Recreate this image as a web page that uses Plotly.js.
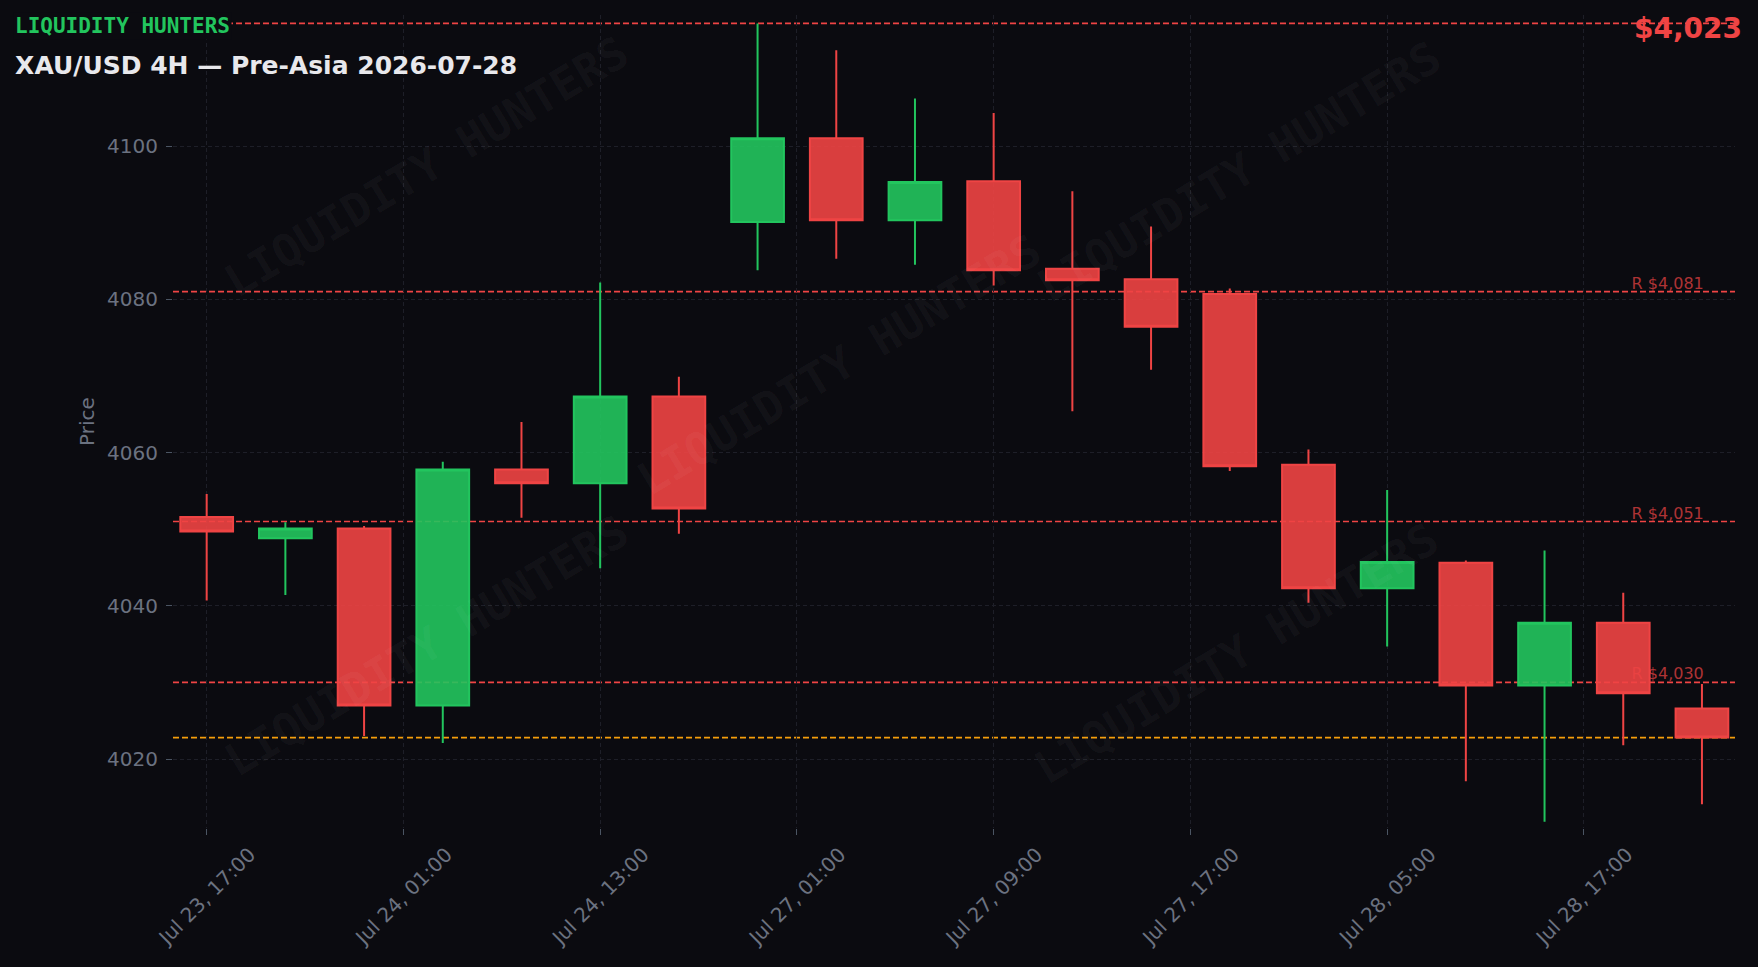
<!DOCTYPE html>
<html>
<head>
<meta charset="utf-8">
<script src="https://cdn.plot.ly/plotly-3.0.1.min.js"></script>
<style>
html,body{margin:0;padding:0;background:#0b0b10;}
#chart{width:1758px;height:967px;}
</style>
</head>
<body>
<div id="chart"></div>
<script>
// ---- data ----
const opens  = [4051.6, 4048.8, 4050.1, 4027.0, 4057.8, 4056.0, 4067.3, 4090.1, 4101.0, 4090.3,
                4095.4, 4084.0, 4082.6, 4080.7, 4058.4, 4042.3, 4045.6, 4029.6, 4037.8, 4026.6];
const highs  = [4054.6, 4050.9, 4050.4, 4058.8, 4064.0, 4082.2, 4069.9, 4116.0, 4112.5, 4106.2,
                4104.3, 4094.1, 4089.5, 4081.4, 4060.4, 4055.1, 4045.9, 4047.2, 4041.7, 4029.8];
const lows   = [4040.7, 4041.4, 4023.0, 4022.1, 4051.5, 4044.9, 4049.4, 4083.8, 4085.3, 4084.5,
                4081.8, 4065.4, 4070.8, 4057.6, 4040.4, 4034.7, 4017.1, 4011.8, 4021.8, 4014.1];
const closes = [4049.7, 4050.1, 4027.0, 4057.8, 4056.0, 4067.3, 4052.7, 4101.0, 4090.3, 4095.3,
                4083.8, 4082.5, 4076.4, 4058.2, 4042.3, 4045.7, 4029.6, 4037.8, 4028.6, 4022.8];
const tickLabels = ["Jul 23, 17:00", "Jul 24, 01:00", "Jul 24, 13:00", "Jul 27, 01:00",
                    "Jul 27, 09:00", "Jul 27, 17:00", "Jul 28, 05:00", "Jul 28, 17:00"];
const candlesPerTick = 2.5;
const sessionHigh = 4116.0;
const resistanceLevels = [4081, 4051, 4030];
const currentPrice = closes[closes.length - 1];

// ---- style ----
const BG = '#0b0b10';
const RED = '#ef4444';
const GREEN = '#22c55e';
const GRAY = '#6b7280';
const GRID = '#1e1f28';
const FONT = 'DejaVu Sans';

const xIdx = opens.map((_, i) => i);
const tickvals = tickLabels.map((_, i) => i * candlesPerTick);
const fmt = v => '$' + Math.round(v).toLocaleString('en-US');

const trace = {
  type: 'candlestick',
  x: xIdx, open: opens, high: highs, low: lows, close: closes,
  increasing: {line: {color: GREEN, width: 2}, fillcolor: 'rgba(34,197,94,0.9)'},
  decreasing: {line: {color: RED, width: 2}, fillcolor: 'rgba(239,68,68,0.9)'},
  hoverinfo: 'skip',
  showlegend: false
};

const dash = '6px,3px';
const shapes = [];
shapes.push({type: 'line', xref: 'paper', x0: 0, x1: 1, yref: 'y', y0: sessionHigh, y1: sessionHigh,
  line: {color: RED, width: 1.7, dash: dash}, layer: 'between'});
resistanceLevels.forEach(lv => {
  shapes.push({type: 'line', xref: 'paper', x0: 0, x1: 1, yref: 'y', y0: lv, y1: lv,
    line: {color: RED, width: 1.7, dash: dash}, layer: 'between'});
  shapes.push({type: 'line', xref: 'paper', x0: 0.90, x1: 0.980, yref: 'y', y0: lv, y1: lv,
    line: {color: 'rgba(0,0,0,0)', width: 0}, layer: 'between',
    label: {text: 'R ' + fmt(lv), textposition: 'end', padding: 0, yanchor: 'bottom',
      font: {family: FONT, size: 16, color: 'rgba(239,68,68,0.72)'}}});
});
shapes.push({type: 'line', xref: 'paper', x0: 0, x1: 1, yref: 'y', y0: currentPrice, y1: currentPrice,
  line: {color: '#f59e0b', width: 1.8, dash: dash}, layer: 'between'});

const wmPos = [[0.1626, 0.814], [0.427, 0.5695], [0.683, 0.807], [0.1626, 0.225], [0.681, 0.215]];
const annotations = wmPos.map(p => ({
  text: 'LIQUIDITY HUNTERS', xref: 'paper', yref: 'paper', x: p[0], y: p[1],
  xanchor: 'center', yanchor: 'middle', textangle: -31, showarrow: false,
  font: {family: 'DejaVu Sans Mono', size: 45, weight: 700, color: 'rgba(255,255,255,0.045)'}
}));
annotations.push({
  text: 'LIQUIDITY HUNTERS', xref: 'paper', yref: 'paper', x: -0.1025, y: 0.9865,
  xanchor: 'left', yanchor: 'middle', showarrow: false, bgcolor: BG,
  font: {family: 'DejaVu Sans Mono', size: 21, weight: 700, color: GREEN}
});
annotations.push({
  text: fmt(currentPrice), xref: 'paper', yref: 'paper', x: 1.0055, y: 0.984,
  xanchor: 'right', yanchor: 'middle', showarrow: false,
  font: {family: FONT, size: 28, weight: 700, color: RED}
});

const layout = {
  width: 1758, height: 967,
  paper_bgcolor: BG, plot_bgcolor: BG,
  margin: {l: 173, r: 23, t: 15, b: 139},
  showlegend: false,
  hovermode: false,
  boxgap: 0.33, boxgroupgap: 0,
  title: {text: 'XAU/USD 4H — Pre-Asia 2026-07-28', x: 0.0086, xanchor: 'left', xref: 'container',
    y: 0.9328, yanchor: 'middle', yref: 'container',
    font: {family: FONT, size: 25, weight: 700, color: '#e8e8ec'}},
  font: {family: FONT, color: GRAY},
  xaxis: {
    type: 'linear', range: [-0.428, 19.42],
    rangeslider: {visible: false},
    tickmode: 'array', tickvals: tickvals, ticktext: tickLabels,
    tickangle: -45, ticks: 'outside', ticklen: 6, tickwidth: 1, tickcolor: '#4b5563',
    tickfont: {family: FONT, size: 20, color: GRAY},
    ticklabelshift: 43,
    showgrid: true, gridcolor: GRID, griddash: '4px,3px', gridwidth: 1,
    zeroline: false, showline: false
  },
  yaxis: {
    range: [4011.0, 4117.1], dtick: 20, tick0: 4000,
    ticks: 'outside', ticklen: 6, tickwidth: 1, tickcolor: '#4b5563',
    tickfont: {family: FONT, size: 20, color: GRAY},
    ticklabelstandoff: 4,
    title: {text: 'Price', font: {family: FONT, size: 20, color: GRAY}, standoff: 7},
    showgrid: true, gridcolor: GRID, griddash: '4px,3px', gridwidth: 1,
    zeroline: false, showline: false
  },
  shapes: shapes,
  annotations: annotations
};

Plotly.newPlot('chart', [trace], layout, {displayModeBar: false, staticPlot: true});
</script>
</body>
</html>
